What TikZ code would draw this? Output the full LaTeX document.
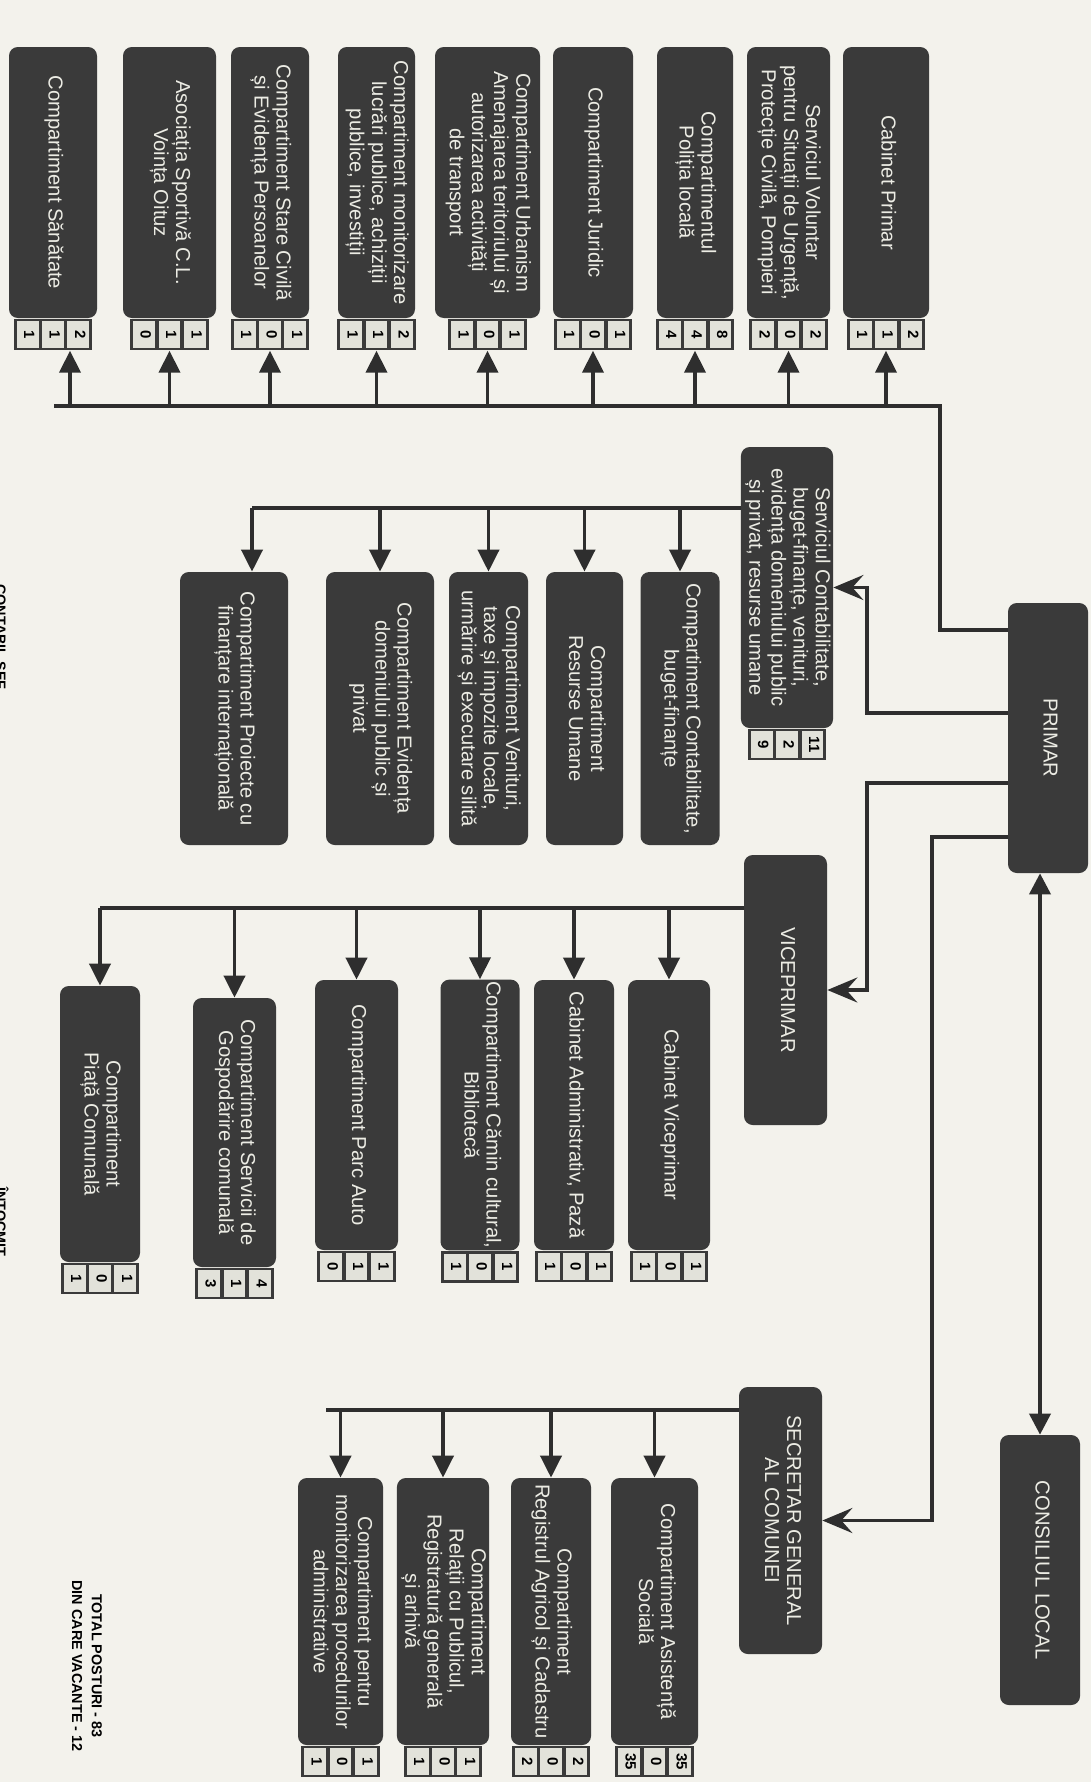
\documentclass[tikz,border=0pt]{standalone}
\usepackage{fontspec}
\setmainfont{Liberation Sans}
\usetikzlibrary{positioning,arrows.meta}
\definecolor{paper}{HTML}{F3F2EC}
\definecolor{boxgray}{HTML}{3A3A3A}
\definecolor{boxtext}{HTML}{ECECE4}
\definecolor{cellgray}{HTML}{E2E2DA}
\definecolor{linegray}{HTML}{2E2E2E}
\setlength{\fboxsep}{1.5pt}
\newcommand{\vt}[1]{\rotatebox{-90}{\begin{tabular}{@{}c@{}}#1\end{tabular}}}
\newcommand{\numcell}[1]{\colorbox{cellgray}{\rotatebox{-90}{\makebox[12pt]{\color{black}\strut #1}}}}
\newcommand{\nums}[3]{\numcell{#1}\hspace{2pt}\numcell{#2}\hspace{2pt}\numcell{#3}}
\begin{document}
\begin{tikzpicture}[x=0.02cm,y=-0.02cm,
  every node/.style={font=\fontsize{11.5}{12.6}\selectfont},
  unit/.style 2 args={fill=boxgray,text=boxtext,rounded corners=5pt,inner sep=1pt,minimum width=#1*0.02cm,minimum height=#2*0.02cm},
  strip/.style={fill=boxgray,inner sep=1.5pt,font=\fontsize{8.5}{9.5}\selectfont\bfseries},
  link/.style={draw=linegray,line width=2.2pt},
  arr/.style={link,-{Triangle[length=4.4mm,width=4.2mm]}},
  sidearr/.style={link,-{Stealth[length=6mm,width=5mm,inset=2.2mm]}},
  dblarr/.style={link,{Triangle[length=4.2mm,width=4.2mm]}-{Triangle[length=4.2mm,width=4.2mm]}},
  note/.style={font=\fontsize{8.2}{11.3}\selectfont\bfseries,text=black,align=center}]
  \fill[paper,use as bounding box] (0,0) rectangle (1091,1782);
  % top row, under the primar
  \node[unit={88}{271}] (san) at (53,182.5) {\vt{Compartiment Sănătate}};
  \node[unit={93}{271}] (asoc) at (169.5,182.5) {\vt{Asociația Sportivă C.L.\\Voința Oituz}};
  \node[unit={78}{271}] (stc) at (270,182.5) {\vt{Compartiment Stare Civilă\\și Evidența Persoanelor}};
  \node[unit={77}{271}] (mon) at (376.5,182.5) {\vt{Compartiment monitorizare\\lucrări publice, achiziții\\publice, investiții}};
  \node[unit={105}{271}] (urb) at (487.5,182.5) {\vt{Compartiment Urbanism\\Amenajarea teritoriului și\\autorizarea activități\\de transport}};
  \node[unit={80}{271}] (jur) at (593,182.5) {\vt{Compartiment Juridic}};
  \node[unit={76}{271}] (pol) at (695,182.5) {\vt{Compartimentul\\Poliția locală}};
  \node[unit={83}{271}] (svsu) at (788.5,182.5) {\vt{Serviciul Voluntar\\pentru Situații de Urgență,\\Protecție Civilă, Pompieri}};
  \node[unit={86}{271}] (cp) at (886,182.5) {\vt{Cabinet Primar}};
  \node[strip,below=0pt of san] (san-n) {\nums{1}{1}{2}};
  \node[strip,below=0pt of asoc] (asoc-n) {\nums{0}{1}{1}};
  \node[strip,below=0pt of stc] (stc-n) {\nums{1}{0}{1}};
  \node[strip,below=0pt of mon] (mon-n) {\nums{1}{1}{2}};
  \node[strip,below=0pt of urb] (urb-n) {\nums{1}{0}{1}};
  \node[strip,below=0pt of jur] (jur-n) {\nums{1}{0}{1}};
  \node[strip,below=0pt of pol] (pol-n) {\nums{4}{4}{8}};
  \node[strip,below=0pt of svsu] (svsu-n) {\nums{2}{0}{2}};
  \node[strip,below=0pt of cp] (cp-n) {\nums{1}{1}{2}};
  % leadership
  \node[unit={80}{270}] (primar) at (1048,738) {\vt{PRIMAR}};
  \node[unit={80}{270}] (cl) at (1040,1570) {\vt{CONSILIUL LOCAL}};
  \node[unit={86}{281}] (serv) at (787,587.5) {\vt{Serviciul Contabilitate,\\buget-finanțe, venituri,\\evidența domeniului public\\și privat, resurse umane}};
  \node[strip,below=0pt of serv] (serv-n) {\nums{9}{2}{11}};
  \node[unit={83}{270}] (vice) at (785.5,990) {\vt{VICEPRIMAR}};
  \node[unit={83}{267}] (sec) at (780.5,1520.5) {\vt{SECRETAR GENERAL\\AL COMUNEI}};
  % under the serviciul
  \node[unit={79}{273}] (cbf) at (680,708.5) {\vt{Compartiment Contabilitate,\\buget-finanțe}};
  \node[unit={77}{273}] (ru) at (584.5,708.5) {\vt{Compartiment\\Resurse Umane}};
  \node[unit={79}{273}] (ven) at (488.5,708.5) {\vt{Compartiment Venituri,\\taxe și impozite locale,\\urmărire și executare silită}};
  \node[unit={108}{273}] (edp) at (380,708.5) {\vt{Compartiment Evidența\\domeniului public și\\privat}};
  \node[unit={108}{273}] (proi) at (234,708.5) {\vt{Compartiment Proiecte cu\\finanțare internațională}};
  % under the viceprimar
  \node[unit={82}{270}] (cvp) at (669,1115) {\vt{Cabinet Viceprimar}};
  \node[unit={80}{270}] (adm) at (574,1115) {\vt{Cabinet Administrativ, Pază}};
  \node[unit={79}{270}] (cam) at (480,1115) {\vt{Compartiment Cămin cultural,\\Bibliotecă}};
  \node[unit={83}{270}] (parc) at (356.5,1115) {\vt{Compartiment Parc Auto}};
  \node[unit={83}{269}] (gosp) at (234.5,1132.5) {\vt{Compartiment Servicii de\\Gospodărire comunală}};
  \node[unit={80}{276}] (piata) at (100,1124) {\vt{Compartiment\\Piață Comunală}};
  \node[strip,below=0pt of cvp] (cvp-n) {\nums{1}{0}{1}};
  \node[strip,below=0pt of adm] (adm-n) {\nums{1}{0}{1}};
  \node[strip,below=0pt of cam] (cam-n) {\nums{1}{0}{1}};
  \node[strip,below=0pt of parc] (parc-n) {\nums{0}{1}{1}};
  \node[strip,below=0pt of gosp] (gosp-n) {\nums{3}{1}{4}};
  \node[strip,below=0pt of piata] (piata-n) {\nums{1}{0}{1}};
  % under the secretar
  \node[unit={87}{267}] (asist) at (654.5,1611.5) {\vt{Compartiment Asistență\\Socială}};
  \node[unit={80}{267}] (rac) at (551,1611.5) {\vt{Compartiment\\Registrul Agricol și Cadastru}};
  \node[unit={90}{267}] (rel) at (443,1611.5) {\vt{Compartiment\\Relații cu Publicul,\\Registratură generală\\și arhivă}};
  \node[unit={85}{267}] (mpa) at (340.5,1611.5) {\vt{Compartiment pentru\\monitorizarea procedurilor\\administrative}};
  \node[strip,below=0pt of asist] (asist-n) {\nums{35}{0}{35}};
  \node[strip,below=0pt of rac] (rac-n) {\nums{2}{0}{2}};
  \node[strip,below=0pt of rel] (rel-n) {\nums{1}{0}{1}};
  \node[strip,below=0pt of mpa] (mpa-n) {\nums{1}{0}{1}};
  % texts at the edge
  \node[note,rotate=-90] (total) at (87,1666) {TOTAL POSTURI - 83\\DIN CARE VACANTE - 12};
  \node[note,rotate=-90,anchor=north,inner sep=0pt] (contab) at (6,637) {CONTABIL ȘEF};
  \node[note,rotate=-90,anchor=north,inner sep=0pt] (intocmit) at (9,1222) {ÎNTOCMIT};
  % bends and bus ends
  \coordinate (tbus-r) at (940,406);
  \coordinate (tbus-l) at (54,406);
  \coordinate (ptop) at (940,630);
  \coordinate (pserv) at (867,713);
  \coordinate (pvice) at (867,783);
  \coordinate (psec) at (932,837);
  \coordinate (sbus) at (252,508);
  \coordinate (vbus) at (100,908);
  \coordinate (cbus) at (326,1410);
  % connectors
  \draw[link] (primar.west |- ptop) -- (ptop) -- (tbus-r) -- (tbus-l);
  \draw[arr] ([xshift=0.34cm]san-n.south |- tbus-l) -- ([xshift=0.34cm]san-n.south);
  \foreach \n in {asoc,stc,mon,urb,jur,pol,svsu,cp}
    \draw[arr] (\n-n |- tbus-l) -- (\n-n.south);
  \draw[sidearr] (primar.west |- pserv) -- (pserv) |- (serv.east);
  \draw[sidearr] (primar.west |- pvice) -- (pvice) |- (vice.east);
  \draw[sidearr] (primar.west |- psec) -- (psec) |- (sec.east);
  \draw[dblarr] (primar.south -| cl.north) -- (cl.north);
  \draw[link] (serv.west |- sbus) -- (sbus);
  \foreach \n in {cbf,ru,ven,edp}
    \draw[arr] (\n |- sbus) -- (\n.north);
  \draw[arr] (sbus) -- (sbus |- proi.north);
  \draw[link] (vice.west |- vbus) -- (vbus);
  \foreach \n in {cvp,adm,cam,parc,gosp}
    \draw[arr] (\n |- vbus) -- (\n.north);
  \draw[arr] (vbus) -- (vbus |- piata.north);
  \draw[link] (sec.west |- cbus) -- (cbus);
  \foreach \n in {asist,rac,rel,mpa}
    \draw[arr] (\n |- cbus) -- (\n.north);
\end{tikzpicture}
\end{document}
